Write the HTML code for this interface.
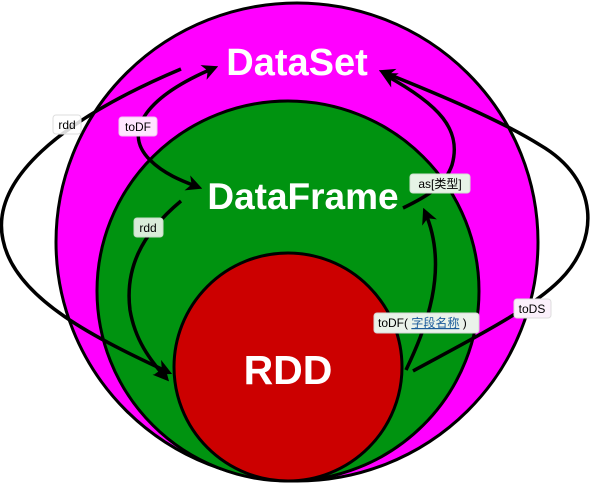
<!DOCTYPE html>
<html><head><meta charset="utf-8"><style>
html,body{margin:0;padding:0;background:#fff;width:596px;height:484px;overflow:hidden}
svg{display:block}
.lbl{font-family:"Liberation Sans","Noto Sans CJK SC",sans-serif;font-size:12px;fill:#000}
.big{font-family:"Liberation Sans",sans-serif;font-weight:bold;fill:#fff}
</style></head><body>
<svg width="596" height="484" viewBox="0 0 596 484" xmlns="http://www.w3.org/2000/svg">
<defs>
<marker id="ah" markerWidth="16" markerHeight="16" refX="10" refY="7" orient="auto" markerUnits="userSpaceOnUse" viewBox="0 0 14 14">
<path d="M0,0 L14,7 L0,14 L4,7 z" fill="#000"/>
</marker>
</defs>
<ellipse cx="297" cy="242" rx="241" ry="239" fill="#ff00ff" stroke="#000" stroke-width="3"/>
<ellipse cx="288" cy="291" rx="191" ry="190" fill="#009310" stroke="#000" stroke-width="3"/>
<ellipse cx="288" cy="367" rx="114" ry="114" fill="#cc0000" stroke="#000" stroke-width="3"/>

<text class="big" x="297" y="75" font-size="38" text-anchor="middle">DataSet</text>
<text class="big" x="303" y="209" font-size="37" text-anchor="middle">DataFrame</text>
<text class="big" x="288" y="384" font-size="41" text-anchor="middle">RDD</text>

<g fill="none" stroke="#000" stroke-width="3.5">
<path d="M181,69 C60,120 -10,180 3,240 C15,300 100,340 168,372" marker-end="url(#ah)"/>
<path d="M150,160 C120,130 150,95 214,68" marker-end="url(#ah)"/>
<path d="M150,160 C165,175 185,182 198,187" marker-end="url(#ah)"/>
<path d="M181,201 C140,235 125,270 130,310 C135,340 150,360 166,378" marker-end="url(#ah)"/>
<path d="M403,208 C430,195 445,185 452,165 C462,130 440,105 385,75" marker-end="url(#ah)"/>
<path d="M406,370 C425,330 450,270 425,212" marker-end="url(#ah)"/>
<path d="M413,371 C470,340 530,310 560,280 C600,240 600,180 540,145 C500,120 440,95 383,72" marker-end="url(#ah)"/>
</g>

<g>
<rect x="53" y="115" width="28" height="19" rx="3" fill="#fff" fill-opacity="0.85" stroke="#ddd"/>
<text class="lbl" x="67" y="129" text-anchor="middle">rdd</text>
<rect x="119" y="117" width="38" height="19" rx="3" fill="#ffe6ff" stroke="#f0c8f0"/>
<text class="lbl" x="138" y="131" text-anchor="middle">toDF</text>
<rect x="134" y="218" width="29" height="19" rx="3" fill="#d9ecd9" stroke="#c6dcc6"/>
<text class="lbl" x="148" y="232" text-anchor="middle">rdd</text>
<rect x="410" y="174" width="60" height="19" rx="3" fill="#e6f3e6" stroke="#d0e0d0"/>
<text class="lbl" x="440" y="188" text-anchor="middle">as[类型]</text>
<rect x="374" y="313" width="105" height="20" rx="3" fill="#eaf2ea" stroke="#d6d6d6"/>
<text class="lbl" x="378" y="327">toDF( <tspan fill="#1a5a9a" text-decoration="underline">字段名称</tspan> )</text>
<rect x="514" y="299" width="37" height="19" rx="3" fill="#fbf0fb" stroke="#ddd"/>
<text class="lbl" x="532" y="313" text-anchor="middle">toDS</text>
</g>
</svg>
</body></html>
